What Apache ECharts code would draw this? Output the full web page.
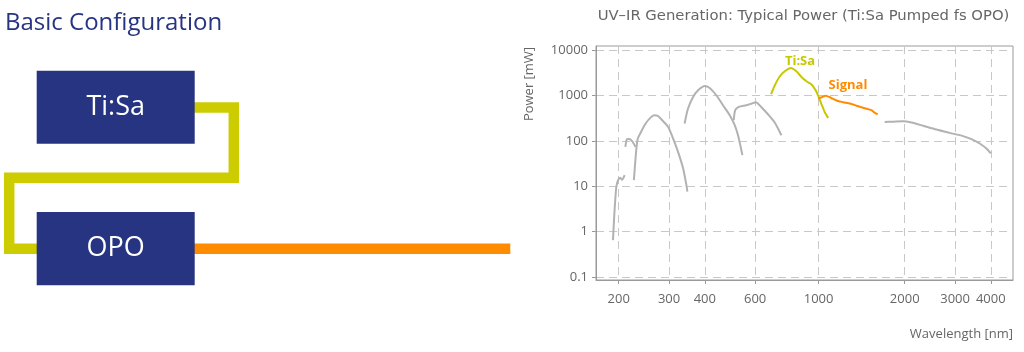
<!DOCTYPE html>
<html><head><meta charset="utf-8">
<script src="https://cdn.jsdelivr.net/npm/echarts@6/dist/echarts.min.js"></script>
<style>html,body{margin:0;padding:0;background:#fff}#c{width:1024px;height:352px}</style>
</head><body><div id="c"></div>
<script>
// ---- data ----
const xTicks = [200, 300, 400, 600, 1000, 2000, 3000, 4000];
const yTicks = [0.1, 1, 10, 100, 1000, 10000];
const uvDeep = [[191,0.65],[193,2.3],[194.5,5.0],[196.3,9.8],[199,13.7],[202.7,15.4],[205.4,13.9],[209.8,17.7]];
const uvShort = [[211,74],[214,110],[218,111],[224,95],[229,74]];
const uvLong = [[226,13.7],[230.6,68],[233.3,113],[239.4,158],[248.4,243],[260,340],[267,370],[274.5,355],[286,273],[297.6,205],[310,113],[322.5,57.5],[336,24.8],[345,10.6],[347.6,7.6]];
const blueSHG = [[340,243],[349.5,520],[364,936],[379,1315],[400,1636],[416,1478],[439,1020],[463,615],[489,370],[509,223],[522.6,134],[534,74],[541.4,48.7]];
const visSHG = [[505,287],[511,477],[525.5,564],[559,615],[584,670],[603,716],[631,555],[665,389],[703,253],[741,134]];
const tisa = [[682,1074],[703,1695],[732,2675],[761.5,3447],[801,4074],[836,3447],[871,2583],[907,2075],[945,1757],[976,1315],[1000.6,936],[1027,615],[1050,437],[1080,323]];
const signal = [[998,877],[1025,922],[1059,995],[1103,899],[1155,780],[1218,716],[1286,670],[1357,600],[1449,529],[1530,477],[1571,420],[1609,389]];
const idler = [[1702,263],[1820,267],[1974,273],[2112,256],[2319,217],[2582,179],[2874,151],[3200,128],[3422,110],[3658,88],[3862,68],[3999,53]];

const FONT = 'Open Sans';
const TFONT = 'DejaVu Sans';
const NAVY = '#273482';
const GRAY = '#b2b2b2';
const YEL = '#c8c800';
const ORA = '#ff8c00';

function seg(name, data, color) {
  return {
    name, type: 'line', data, showSymbol: false, smooth: 0.25,
    lineStyle: { color, width: 2 }, itemStyle: { color }, silent: true, animation: false
  };
}

const chart = echarts.init(document.getElementById('c'), null, { renderer: 'canvas' });
chart.setOption({
  animation: false,
  backgroundColor: '#fff',
  textStyle: { fontFamily: FONT },
  grid: { left: 596, right: 11, top: 46, bottom: 72, show: true, borderColor: '#9a9a9a', borderWidth: 1 },
  xAxis: {
    type: 'log', logBase: 10, min: 166.6, max: 4783,
    axisLine: { show: true, lineStyle: { color: '#9a9a9a' } },
    axisTick: { show: true, length: 4, customValues: xTicks, lineStyle: { color: '#9a9a9a' } },
    axisLabel: { customValues: xTicks, color: '#666', fontSize: 13, fontFamily: FONT, margin: 13, formatter: v => String(v) },
    splitLine: { show: true, lineStyle: { color: '#c8c8c8', type: [8, 5], width: 1 } }
  },
  yAxis: {
    type: 'log', logBase: 10, min: 0.0859, max: 12435,
    axisLine: { show: true, lineStyle: { color: '#9a9a9a' } },
    axisTick: { show: true, length: 4, customValues: yTicks, lineStyle: { color: '#9a9a9a' } },
    axisLabel: { customValues: yTicks, color: '#666', fontSize: 13, fontFamily: FONT, margin: 8, formatter: v => String(v) },
    splitLine: { show: true, lineStyle: { color: '#c8c8c8', type: [8, 5], width: 1 } }
  },
  series: [
    seg('UV deep', uvDeep, GRAY),
    seg('UV short', uvShort, GRAY),
    seg('UV', uvLong, GRAY),
    seg('Blue', blueSHG, GRAY),
    seg('Visible', visSHG, GRAY),
    seg('Idler', idler, GRAY),
    seg('Ti:Sa', tisa, YEL),
    seg('Signal', signal, ORA)
  ],
  graphic: [
    // left diagram
    { type: 'polyline', shape: { points: [[194, 107.5], [233.8, 107.5], [233.8, 177.8], [9.2, 177.8], [9.2, 248.7], [40, 248.7]] },
      style: { stroke: '#cccc00', lineWidth: 10.5, fill: null, lineJoin: 'miter', lineCap: 'butt' } },
    { type: 'line', shape: { x1: 190, y1: 248.7, x2: 510.3, y2: 248.7 }, style: { stroke: ORA, lineWidth: 10.5, lineCap: 'butt' } },
    { type: 'rect', shape: { x: 36.7, y: 70.7, width: 158, height: 73 }, style: { fill: NAVY } },
    { type: 'rect', shape: { x: 36.7, y: 212, width: 158, height: 73.3 }, style: { fill: NAVY } },
    { type: 'text', x: 115.7, y: 107.5, style: { text: 'Ti:Sa', fill: '#fff', fontSize: 27, fontFamily: FONT, align: 'center', verticalAlign: 'middle', textAlign: 'center', textVerticalAlign: 'middle' } },
    { type: 'text', x: 115.7, y: 248.7, style: { text: 'OPO', fill: '#fff', fontSize: 27, fontFamily: FONT, align: 'center', verticalAlign: 'middle', textAlign: 'center', textVerticalAlign: 'middle' } },
    { type: 'text', x: 5, y: 23, style: { text: 'Basic Configuration', fill: NAVY, fontSize: 24, fontFamily: FONT, align: 'left', verticalAlign: 'middle', textAlign: 'left', textVerticalAlign: 'middle' } },
    // chart texts
    { type: 'text', x: 803.5, y: 16, style: { text: 'UV\u2013IR Generation: Typical Power (Ti:Sa Pumped fs OPO)', fill: '#666', fontSize: 14.8, fontFamily: TFONT, align: 'center', verticalAlign: 'middle', textAlign: 'center', textVerticalAlign: 'middle' } },
    { type: 'text', x: 529, y: 84, rotation: Math.PI / 2, style: { text: 'Power [mW]', fill: '#666', fontSize: 13, fontFamily: FONT, align: 'center', verticalAlign: 'middle', textAlign: 'center', textVerticalAlign: 'middle' } },
    { type: 'text', x: 1013, y: 334, style: { text: 'Wavelength [nm]', fill: '#666', fontSize: 13, fontFamily: FONT, align: 'right', verticalAlign: 'middle', textAlign: 'right', textVerticalAlign: 'middle' } },
    { type: 'text', x: 800, y: 61, style: { text: 'Ti:Sa', fill: YEL, fontSize: 13, fontWeight: 'bold', fontFamily: FONT, align: 'center', verticalAlign: 'middle', textAlign: 'center', textVerticalAlign: 'middle' } },
    { type: 'text', x: 848, y: 85, style: { text: 'Signal', fill: ORA, fontSize: 13, fontWeight: 'bold', fontFamily: FONT, align: 'center', verticalAlign: 'middle', textAlign: 'center', textVerticalAlign: 'middle' } }
  ]
});
</script></body></html>
